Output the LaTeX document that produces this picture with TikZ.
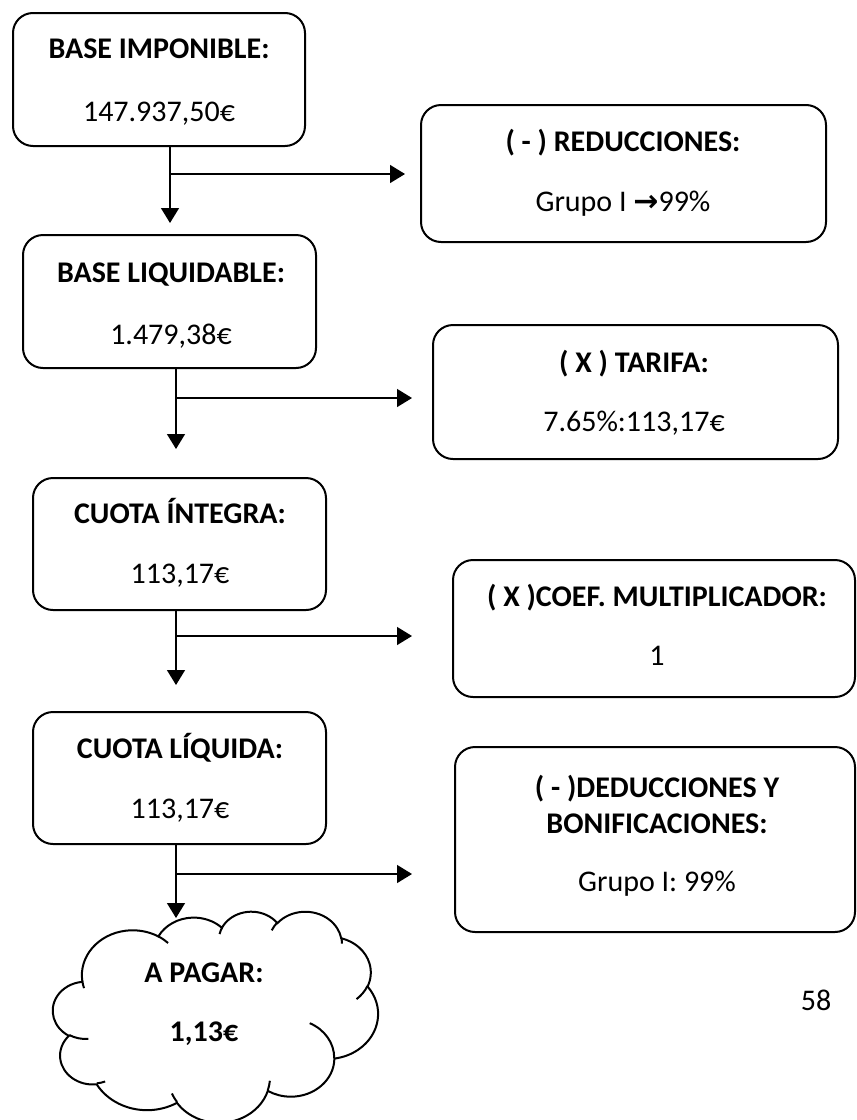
\documentclass[tikz,border=0pt]{standalone}
\usepackage{fontspec}
\setmainfont{Carlito}
\newfontfamily\arrowfont{DejaVu Sans}
\usetikzlibrary{arrows.meta,fit}

% One arc of the cloud outline: x radius, y radius, start angle and sweep.
% The angles are measured along the ray from the centre, so they are
% turned into the parametric angles that TikZ's arc uses.
\newcommand\cloudarc[4]{%
  arc[start angle={atan2((#1)*sin(#3),(#2)*cos(#3))},
      delta angle={mod(atan2((#1)*sin((#3)+(#4)),(#2)*cos((#3)+(#4)))-atan2((#1)*sin(#3),(#2)*cos(#3))+720,360)},
      x radius=#1, y radius=#2]}

\begin{document}
\begin{tikzpicture}[x=0.4pt,y=-0.4pt,
  box/.style={draw, line width=0.8pt, rounded corners=8pt, inner sep=0pt},
  title/.style={font=\bfseries\fontsize{12}{14.4}\selectfont, anchor=base, inner sep=0pt},
  value/.style={font=\fontsize{12}{14.4}\selectfont, anchor=base, inner sep=0pt},
  flow/.style={line width=0.55pt, -{Triangle[length=6pt,width=7.2pt]}},
  ]
\useasboundingbox (0,0) rectangle (857,1120);

% ---- main column
\node[box, fit={(13,13) (305,146)}] (b1) {};
\node[title] (b1t) at (159,58) {BASE IMPONIBLE:};
\node[value] (b1v) at (159,121) {147.937,50€};

\node[box, fit={(23,235) (316,368)}] (b3) {};
\node[title] (b3t) at (171,282) {BASE LIQUIDABLE:};
\node[value] (b3v) at (171,344) {1.479,38€};

\node[box, fit={(33,478) (326,610)}] (b5) {};
\node[title] (b5t) at (180,523) {CUOTA ÍNTEGRA:};
\node[value] (b5v) at (180,583) {113,17€};

\node[box, fit={(33,712) (326,844)}] (b7) {};
\node[title] (b7t) at (180,758) {CUOTA LÍQUIDA:};
\node[value] (b7v) at (180,818) {113,17€};

% ---- operations on the right
\node[box, fit={(421,105) (826,242)}] (b2) {};
\node[title] (b2t) at (623,151) {( - ) REDUCCIONES:};
\node[value] (b2v) at (623,211) {Grupo I {\arrowfont\bfseries →}99\%};

\node[box, fit={(433,325) (838,459)}] (b4) {};
\node[title] (b4t) at (634,372) {( X ) TARIFA:};
\node[value] (b4v) at (634,431) {7.65\%:113,17€};

\node[box, fit={(453,560) (855,697)}] (b6) {};
\node[title] (b6t) at (657,606) {( X )COEF. MULTIPLICADOR:};
\node[value] (b6v) at (657,665) {1};

\node[box, fit={(455,747) (855,932)}] (b8) {};
\node[title] (b8t) at (657,797) {( - )DEDUCCIONES Y};
\node[title] (b8u) at (657,833) {BONIFICACIONES:};
\node[value] (b8v) at (657,891) {Grupo I: 99\%};

% ---- result cloud
\begin{scope}[shift={(21.2pt,-364.4pt)}, x=3.009pt, y=-1.954pt, line width=0.8pt]
\draw[fill=white] (3.900,14.370)
  \cloudarc{6.753}{9.190}{-190.4875}{123.7805}
  \cloudarc{5.333}{7.267}{-144.1024}{89.9452}
  \cloudarc{4.365}{5.945}{-145.8079}{99.7230}
  \cloudarc{4.857}{6.595}{-130.9861}{117.2417}
  \cloudarc{5.333}{7.273}{-78.7089}{109.0269}
  \cloudarc{6.775}{9.220}{-46.2673}{130.2690}
  \cloudarc{5.785}{7.867}{0.6250}{114.0333}
  \cloudarc{6.752}{9.215}{22.4516}{115.1726}
  \cloudarc{7.720}{10.543}{66.2426}{75.7110}
  \cloudarc{4.360}{5.918}{-274.9421}{146.7356}
  \cloudarc{4.345}{5.945}{-246.8285}{152.5189}
  -- cycle;
\draw (4.693,26.177) \cloudarc{4.345}{5.945}{86.7420}{26.4295}
      (6.928,34.899) \cloudarc{4.360}{5.918}{73.6105}{11.4475}
      (16.478,39.090) \cloudarc{6.752}{9.215}{137.6242}{14.0811}
      (28.827,34.751) \cloudarc{6.752}{9.215}{6.4533}{15.9984}
      (34.129,22.954) \cloudarc{5.785}{7.867}{-70.2924}{70.9174}
      (41.798,15.354) \cloudarc{5.333}{7.273}{30.3180}{27.7515}
      (38.324,5.426) \cloudarc{4.857}{6.595}{-13.7443}{14.8589}
      (29.078,3.952) \cloudarc{4.857}{6.595}{-149.1815}{18.1954}
      (22.141,4.720) \cloudarc{4.365}{5.945}{-163.4943}{17.6864}
      (14.000,5.192) \cloudarc{6.753}{9.190}{-66.7070}{12.3194}
      (4.127,15.789) \cloudarc{6.753}{9.190}{157.6544}{11.8582};
\end{scope}
\node[title] (ct) at (204,982) {A PAGAR:};
\node[title] (cv) at (204,1041) {1,13€};

% ---- connectors: each step splits into the next value and its operation
\coordinate (s1) at (170,174); \coordinate (d1) at (170,223); \coordinate (r1) at (405,174);
\coordinate (s3) at (176,398); \coordinate (d3) at (176,449); \coordinate (r3) at (412,398);
\coordinate (s5) at (176,636); \coordinate (d5) at (176,685); \coordinate (r5) at (412,636);
\coordinate (s7) at (176,874); \coordinate (d7) at (176,918); \coordinate (r7) at (412,874);

\draw[flow] (b1.south -| s1) -- (d1);
\draw[flow] (s1) -- (r1);
\draw[flow] (b3.south -| s3) -- (d3);
\draw[flow] (s3) -- (r3);
\draw[flow] (b5.south -| s5) -- (d5);
\draw[flow] (s5) -- (r5);
\draw[flow] (b7.south -| s7) -- (d7);
\draw[flow] (s7) -- (r7);

% ---- page number
\node[value] (pg) at (816,1010) {58};
\end{tikzpicture}
\end{document}
